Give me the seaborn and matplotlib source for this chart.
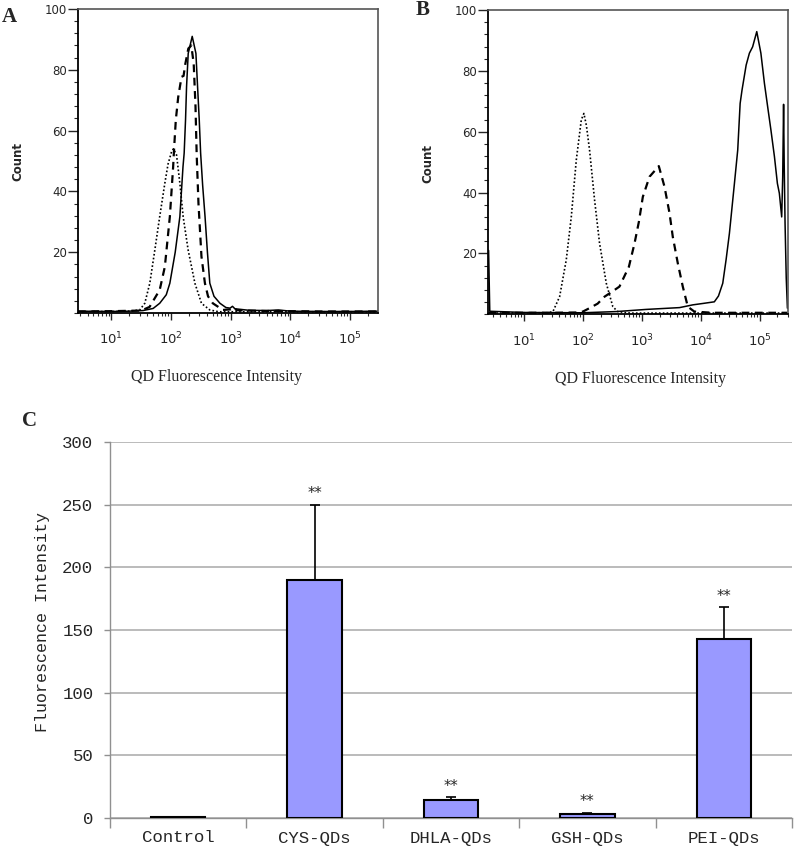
import numpy as np
import pandas as pd
import matplotlib
matplotlib.use("Agg")
import matplotlib.pyplot as plt
import seaborn as sns
from matplotlib.ticker import LogLocator, MultipleLocator, NullFormatter

sns.set_style("ticks")
plt.rcParams['font.family'] = ['DejaVu Sans']
plt.rcParams['mathtext.fontset'] = 'dejavusans'

# ---------------- Panel A histograms (log10 intensity, count) ----------------
a_solid_log = [0.44, 1.0, 1.3, 1.53, 1.70, 1.81, 1.92, 1.98, 2.07, 2.148, 2.20, 2.22, 2.243, 2.26,
               2.288, 2.355, 2.417, 2.445, 2.473, 2.496, 2.53, 2.57, 2.61, 2.65, 2.72, 2.82, 2.92,
               2.99, 3.03, 3.07, 3.3, 3.6, 3.8, 4.0, 4.5, 5.0, 5.47]
a_solid_cnt = [0.6, 0.5, 0.6, 0.8, 1.5, 3.2, 6.0, 9.8, 20, 31.7, 48, 52.6, 63.5, 74.4,
               85.4, 91, 85.4, 74.4, 63.5, 52.6, 42, 31.7, 20, 9.8, 5.5, 3.2, 1.8,
               1.6, 2.2, 1.4, 0.9, 0.8, 1.0, 0.6, 0.5, 0.5, 0.6]

a_dash_log = [0.44, 1.0, 1.5, 1.64, 1.81, 1.896, 1.98, 2.035, 2.053, 2.08, 2.12, 2.176, 2.21,
              2.24, 2.29, 2.34, 2.38, 2.41, 2.43, 2.46, 2.51, 2.568, 2.62, 2.70, 2.87, 3.0,
              3.05, 3.1, 3.5, 4.0, 4.5, 5.47]
a_dash_cnt = [0.5, 0.6, 0.8, 2.0, 7.6, 15.2, 31.7, 48, 54.7, 63.5, 71, 77.7, 78,
              82, 87, 88, 82, 68, 52, 36, 18.6, 9.8, 5.5, 3.2, 1.0, 1.2,
              1.8, 0.9, 0.7, 0.6, 0.5, 0.5]

a_dot_log = [0.44, 1.0, 1.3, 1.475, 1.56, 1.644, 1.728, 1.81, 1.896, 1.95, 2.008, 2.04, 2.092,
             2.148, 2.203, 2.287, 2.40, 2.51, 2.65, 2.8, 3.5, 4.5, 5.47]
a_dot_cnt = [0.4, 0.5, 0.6, 1.0, 3.2, 9.8, 20.7, 31.7, 42.7, 49, 53, 54, 52,
             42.7, 31.7, 20.7, 9.8, 3.2, 1.0, 0.4, 0.4, 0.4, 0.4]

# ---------------- Panel B histograms ----------------
b_solid_log = [0.40, 0.42, 1.0, 2.0, 2.57, 3.07, 3.64, 3.864, 4.05, 4.23, 4.30, 4.373, 4.43,
               4.486, 4.571, 4.627, 4.668, 4.70, 4.77, 4.825, 4.88, 4.95, 5.02, 5.08, 5.135,
               5.19, 5.25, 5.30, 5.333, 5.373, 5.39, 5.405, 5.415, 5.43, 5.45, 5.47]
b_solid_cnt = [21, 1.0, 0.6, 0.5, 0.9, 1.6, 2.2, 3.1, 3.6, 4.1, 6.0, 10.2, 18,
               26.6, 43, 54, 69.3, 73.7, 81.9, 85.8, 87.9, 92.9, 85.8, 75.9, 68.2,
               60.6, 51.8, 43, 39.8, 32, 45, 69, 50, 30, 12, 2]

b_dash_log = [0.40, 1.5, 1.9, 2.0, 2.11, 2.25, 2.368, 2.50, 2.62, 2.78, 2.876, 2.95, 3.017,
              3.13, 3.288, 3.385, 3.47, 3.525, 3.61, 3.695, 3.78, 3.89, 4.2, 5.47]
b_dash_cnt = [0.5, 0.5, 0.6, 0.9, 2.0, 3.5, 5.8, 7.5, 9.1, 15.6, 23.3, 30.4, 38.6,
              45.2, 48.7, 41.9, 33.2, 25.5, 16.8, 9.1, 2.5, 0.9, 0.5, 0.5]

b_dot_log = [0.40, 1.0, 1.4, 1.492, 1.605, 1.718, 1.803, 1.888, 1.973, 2.017, 2.06, 2.113,
             2.198, 2.283, 2.397, 2.508, 2.59, 2.8, 5.47]
b_dot_cnt = [0.4, 0.5, 0.5, 0.9, 5.8, 17.9, 32, 50.7, 63.9, 66, 62, 54,
             37.6, 23.3, 10.2, 2.5, 0.9, 0.4, 0.4]

decade_ticks = [1e1, 1e2, 1e3, 1e4, 1e5]
decade_labels = [r'$10^{1}$', r'$10^{2}$', r'$10^{3}$', r'$10^{4}$', r'$10^{5}$']
count_ticks = [20, 40, 60, 80, 100]

# ---------------- Panel C bars ----------------
categories = ["Control", "CYS-QDs", "DHLA-QDs", "GSH-QDs", "PEI-QDs"]
means = [1, 190, 14, 3, 143]
errs = [0, 60, 2.5, 1.2, 25]
stars = ["", "**", "**", "**", "**"]

fig = plt.figure(figsize=(8, 8.48), dpi=100)

serif = 'Liberation Serif'
mono = 'Liberation Mono'


def hist_panel(ax, curves, xlim, letter, letter_xy, xlabel_x):
    ax.set_xscale('log')
    for logx, cnt, ls, lw in curves:
        sns.lineplot(x=10 ** np.array(logx), y=np.array(cnt), ax=ax, color='black',
                     linewidth=lw, linestyle=ls, estimator=None, sort=False)
    ax.set_xlim(*xlim)
    ax.set_ylim(0, 100)
    ax.set_xticks(decade_ticks)
    ax.set_xticklabels(decade_labels)
    ax.xaxis.set_minor_locator(LogLocator(base=10, subs=np.arange(2, 10), numticks=20))
    ax.xaxis.set_minor_formatter(NullFormatter())
    ax.set_yticks(count_ticks)
    ax.yaxis.set_minor_locator(MultipleLocator(4))
    ax.tick_params(axis='x', which='major', length=5, width=1.0, pad=8, labelsize=9.5, direction='out')
    ax.tick_params(axis='x', which='minor', length=2.5, width=0.8, direction='out')
    ax.tick_params(axis='y', which='major', length=7, width=1.0, pad=1, labelsize=8.5, direction='out')
    ax.tick_params(axis='y', which='minor', length=3, width=0.8, direction='out')
    for s in ['left', 'bottom']:
        ax.spines[s].set_linewidth(1.3)
        ax.spines[s].set_color('black')
    for s in ['top', 'right']:
        ax.spines[s].set_linewidth(1.2)
        ax.spines[s].set_color('#555555')
        ax.spines[s].set_visible(True)
    ax.set_ylabel('Count', fontsize=8.5, fontweight='bold')
    ax.yaxis.set_label_coords(-0.18, 0.497)
    ax.set_xlabel('QD Fluorescence Intensity', fontsize=11.5, family=serif, va='center')
    ax.xaxis.set_label_coords(xlabel_x, -0.212)
    fig.text(letter_xy[0], letter_xy[1], letter, fontsize=15, fontweight='bold',
             family=serif, ha='left', va='center')


axA = fig.add_axes([78 / 800, 1 - 313 / 848, 300 / 800, 304 / 848])
hist_panel(axA,
           [(a_dot_log, a_dot_cnt, (0, (1, 1.3)), 1.2),
            (a_dash_log, a_dash_cnt, (0, (3.5, 2.5)), 1.6),
            (a_solid_log, a_solid_cnt, '-', 1.1)],
           (10 ** 0.44, 10 ** 5.47), 'A', (2 / 800, 1 - 17 / 848), 0.462)

axB = fig.add_axes([488 / 800, 1 - 314.3 / 848, 300 / 800, 304.3 / 848])
hist_panel(axB,
           [(b_dot_log, b_dot_cnt, (0, (1, 1.3)), 1.2),
            (b_dash_log, b_dash_cnt, (0, (3.5, 2.5)), 1.6),
            (b_solid_log, b_solid_cnt, '-', 1.1)],
           (10 ** 0.39, 10 ** 5.48), 'B', (416 / 800, 1 - 10 / 848), 0.507)

# ---------------- Panel C ----------------
axC = fig.add_axes([110 / 800, 1 - 818 / 848, 682 / 800, 376 / 848])
dfc = pd.DataFrame({"group": categories, "value": means})
sns.barplot(data=dfc, x="group", y="value", color='#9999ff', edgecolor='black',
            linewidth=1.5, width=0.4, errorbar=None, ax=axC, saturation=1, zorder=3)
pos = np.arange(len(categories))
axC.errorbar(pos, means, yerr=[np.zeros(len(errs)), errs], fmt='none', ecolor='black',
             elinewidth=1.2, capsize=3.3, capthick=1.2, zorder=4)
for p, m, e, s in zip(pos, means, errs, stars):
    if s:
        axC.text(p, m + e + 9, s, ha='center', va='center', fontsize=10.5,
                 family='DejaVu Sans', zorder=5)

axC.set_ylim(0, 300)
axC.set_xlim(-0.5, len(categories) - 0.5)
axC.set_yticks(np.arange(0, 301, 50))
axC.yaxis.grid(True, color='#a8a8a8', linewidth=1.1)
axC.set_axisbelow(True)
for s in ['top', 'right']:
    axC.spines[s].set_visible(False)
for s in ['left', 'bottom']:
    axC.spines[s].set_color('#909090')
    axC.spines[s].set_linewidth(1.0)
axC.set_xticks(np.arange(-0.5, len(categories), 1.0), minor=True)
axC.tick_params(axis='x', which='major', length=0, pad=9, labelsize=12.5)
axC.tick_params(axis='x', which='minor', length=7, color='#909090', width=1.0)
axC.tick_params(axis='y', which='major', length=4, color='#909090', width=1.0, pad=8, labelsize=12.5)
for lab in axC.get_xticklabels() + axC.get_yticklabels():
    lab.set_family(mono)
axC.set_xlabel('')
axC.set_ylabel('Fluorescence Intensity', fontsize=12, family=mono)
axC.yaxis.set_label_coords((50 - 110) / 682, 0.52)
fig.text(22 / 800, 1 - 421 / 848, 'C', fontsize=15, fontweight='bold', family=serif,
         ha='left', va='center')

fig.savefig('out.png', dpi=100)
